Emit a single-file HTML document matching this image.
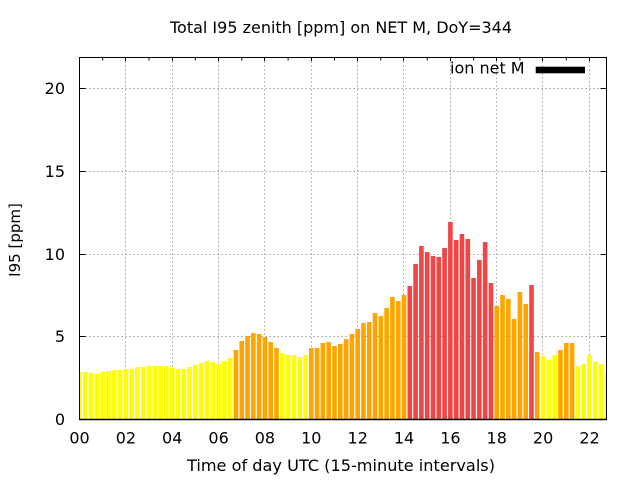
<!DOCTYPE html>
<html><head><meta charset="utf-8"><style>
html,body{margin:0;padding:0;background:#fff;}
svg{display:block;}
text{font-family:"DejaVu Sans","Liberation Sans",sans-serif;fill:#000;}
</style></head><body>
<svg width="640" height="480" viewBox="0 0 640 480" xmlns="http://www.w3.org/2000/svg">
<defs><clipPath id="pa"><rect x="79.5" y="57.5" width="527" height="362"/></clipPath></defs>
<rect width="640" height="480" fill="#fff"/>
<path stroke="#a0a0a0" stroke-width="1" stroke-dasharray="1.5 2.5" fill="none" d="M125.5 57.5V419.5M172.5 57.5V419.5M218.5 57.5V419.5M264.5 57.5V419.5M311.5 57.5V419.5M357.5 57.5V419.5M403.5 57.5V419.5M450.5 57.5V419.5M496.5 57.5V419.5M542.5 57.5V419.5M589.5 57.5V419.5M85.5 336.5H600.5M85.5 254.5H600.5M85.5 171.5H600.5M85.5 88.5H600.5"/>
<g clip-path="url(#pa)">
<path fill="#ffff00" d="M77.18 419.5V372h4.64V419.5z M82.98 419.5V372h4.64V419.5z M88.77 419.5V373h4.64V419.5z M94.57 419.5V374h4.64V419.5z M100.36 419.5V372h4.64V419.5z M106.16 419.5V371h4.64V419.5z M111.95 419.5V370h4.64V419.5z M117.75 419.5V370h4.64V419.5z M123.54 419.5V369h4.64V419.5z M129.34 419.5V369h4.64V419.5z M135.13 419.5V367h4.64V419.5z M140.93 419.5V367h4.64V419.5z M146.72 419.5V366h4.64V419.5z M152.52 419.5V366h4.64V419.5z M158.31 419.5V366h4.64V419.5z M164.11 419.5V366h4.64V419.5z M169.9 419.5V368h4.64V419.5z M175.7 419.5V369h4.64V419.5z M181.49 419.5V369h4.64V419.5z M187.29 419.5V367h4.64V419.5z M193.08 419.5V365h4.64V419.5z M198.88 419.5V363h4.64V419.5z M204.67 419.5V361h4.64V419.5z M210.47 419.5V362h4.64V419.5z M216.26 419.5V364h4.64V419.5z M222.06 419.5V361h4.64V419.5z M227.85 419.5V358h4.64V419.5z M280.01 419.5V353h4.64V419.5z M285.8 419.5V355h4.64V419.5z M291.6 419.5V355h4.64V419.5z M297.39 419.5V357h4.64V419.5z M303.19 419.5V355h4.64V419.5z M540.78 419.5V356h4.64V419.5z M546.58 419.5V360h4.64V419.5z M552.37 419.5V355h4.64V419.5z M575.55 419.5V366h4.64V419.5z M581.35 419.5V364h4.64V419.5z M587.14 419.5V355h4.64V419.5z M592.94 419.5V362h4.64V419.5z M598.73 419.5V364h4.64V419.5z M604.53 419.5V373h4.64V419.5z"/>
<path fill="#ffa500" d="M233.65 419.5V350h4.64V419.5z M239.44 419.5V341h4.64V419.5z M245.24 419.5V336h4.64V419.5z M251.03 419.5V333h4.64V419.5z M256.83 419.5V334h4.64V419.5z M262.62 419.5V337h4.64V419.5z M268.42 419.5V342h4.64V419.5z M274.21 419.5V348h4.64V419.5z M308.98 419.5V348h4.64V419.5z M314.78 419.5V348h4.64V419.5z M320.57 419.5V343h4.64V419.5z M326.37 419.5V342h4.64V419.5z M332.16 419.5V346h4.64V419.5z M337.96 419.5V344h4.64V419.5z M343.75 419.5V339h4.64V419.5z M349.55 419.5V334h4.64V419.5z M355.34 419.5V329h4.64V419.5z M361.14 419.5V323h4.64V419.5z M366.93 419.5V322h4.64V419.5z M372.73 419.5V313h4.64V419.5z M378.52 419.5V316h4.64V419.5z M384.32 419.5V308h4.64V419.5z M390.11 419.5V297h4.64V419.5z M395.91 419.5V301h4.64V419.5z M401.7 419.5V295h4.64V419.5z M494.42 419.5V306h4.64V419.5z M500.22 419.5V295h4.64V419.5z M506.01 419.5V299h4.64V419.5z M511.81 419.5V319h4.64V419.5z M517.6 419.5V292h4.64V419.5z M523.4 419.5V304h4.64V419.5z M534.99 419.5V352h4.64V419.5z M558.17 419.5V350h4.64V419.5z M563.96 419.5V343h4.64V419.5z M569.76 419.5V343h4.64V419.5z"/>
<path fill="#f04646" d="M407.5 419.5V286h4.64V419.5z M413.29 419.5V264h4.64V419.5z M419.09 419.5V246h4.64V419.5z M424.88 419.5V252h4.64V419.5z M430.68 419.5V256h4.64V419.5z M436.47 419.5V257h4.64V419.5z M442.27 419.5V248h4.64V419.5z M448.06 419.5V222h4.64V419.5z M453.86 419.5V240h4.64V419.5z M459.65 419.5V234h4.64V419.5z M465.45 419.5V239h4.64V419.5z M471.24 419.5V278h4.64V419.5z M477.04 419.5V260h4.64V419.5z M482.83 419.5V242h4.64V419.5z M488.63 419.5V283h4.64V419.5z M529.19 419.5V285h4.64V419.5z"/>
</g>
<path stroke="#000" stroke-width="1" fill="none" d="M79.5 336.5h6M79.5 254.5h6M79.5 171.5h6M79.5 88.5h6M606.5 336.5h-6M606.5 254.5h-6M606.5 171.5h-6M606.5 88.5h-6M102.7 57.5v3M125.5 57.5v3.5M149 57.5v3M172.5 57.5v3.5M195.4 57.5v3M218.5 57.5v3.5M241.8 57.5v3M264.5 57.5v3.5M288.1 57.5v3M311.5 57.5v3.5M334.5 57.5v3M357.5 57.5v3.5M380.8 57.5v3M403.5 57.5v3.5M427.2 57.5v3M450.5 57.5v3.5M473.6 57.5v3M496.5 57.5v3.5M519.9 57.5v3M542.5 57.5v3.5M566.3 57.5v3M589.5 57.5v3.5M79.5 57.5H606.5V419.5H79.5Z"/>
<path stroke="#000" stroke-width="1.6" d="M79 419.5H607"/>
<g font-size="16" text-anchor="end">
<text x="65" y="425">0</text>
<text x="65" y="342">5</text>
<text x="65" y="260">10</text>
<text x="65" y="177">15</text>
<text x="65" y="94">20</text>
</g>
<g font-size="16" text-anchor="middle">
<text x="79.5" y="443.5">00</text>
<text x="125.9" y="443.5">02</text>
<text x="172.2" y="443.5">04</text>
<text x="218.6" y="443.5">06</text>
<text x="264.9" y="443.5">08</text>
<text x="311.3" y="443.5">10</text>
<text x="357.7" y="443.5">12</text>
<text x="404" y="443.5">14</text>
<text x="450.4" y="443.5">16</text>
<text x="496.7" y="443.5">18</text>
<text x="543.1" y="443.5">20</text>
<text x="589.5" y="443.5">22</text>
</g>
<text x="341" y="33" font-size="16" text-anchor="middle" textLength="342" lengthAdjust="spacingAndGlyphs">Total I95 zenith [ppm] on NET M, DoY=344</text>
<text x="341" y="471" font-size="16" text-anchor="middle" textLength="308" lengthAdjust="spacingAndGlyphs">Time of day UTC (15-minute intervals)</text>
<text x="0" y="0" font-size="15" text-anchor="middle" transform="translate(20,240) rotate(-90)">I95 [ppm]</text>
<text x="450" y="73.5" font-size="16">ion net M</text>
<rect x="535.7" y="66.7" width="49.3" height="6.6" fill="#000"/>
</svg>
</body></html>
